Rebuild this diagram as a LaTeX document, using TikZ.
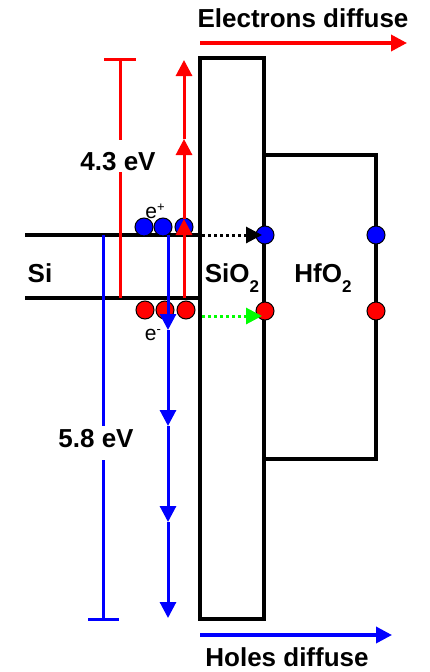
\documentclass[tikz,border=0pt]{standalone}
\usepackage{fontspec}
\setmainfont{Liberation Sans}
\usepackage{xcolor}
\definecolor{dotgreen}{RGB}{0,255,0}
\usetikzlibrary{arrows.meta}
\newcommand{\lowidx}[1]{\raisebox{-10pt}{\fontsize{17}{20}\selectfont #1}}
\newcommand{\highidx}[1]{\raisebox{7pt}{\fontsize{13}{14}\selectfont #1}}

\begin{document}
\begin{tikzpicture}[
      x=1pt,y=-1pt,
      band/.style={line width=4pt,black},
      lbl/.style={font=\fontsize{26}{30}\selectfont\bfseries,anchor=base,inner sep=0pt},
      small/.style={font=\fontsize{21}{24}\selectfont,anchor=base,inner sep=0pt},
      hole/.style={circle,draw=black,line width=1pt,fill=blue,minimum size=18pt,inner sep=0pt},
      elec/.style={hole,fill=red},
      tip/.style={-{Triangle[length=16pt,width=16pt]}},
      redline/.style={line width=3pt,red},
      blueline/.style={line width=3pt,blue},
      dots/.style={line width=3pt,dash pattern=on 3pt off 3pt,tip,shorten >=3pt}
    ]
    \useasboundingbox (0,0) rectangle (429,672);
    % oxide layers
    \draw[band] (200,58) rectangle (264,619);
    \draw[band] (264,155) -| (376,459) -- (264,459);
    % Si bands
    \coordinate (cbl) at (25,235);
    \coordinate (cbr) at (200,235);
    \coordinate (vbl) at (25,298);
    \coordinate (vbr) at (200,298);
    \draw[band] (cbl) -- (cbr);
    \draw[band] (vbl) -- (vbr);
    % carriers
    \foreach \x [count=\i] in {144,163,184} {
      \node[hole] (h\i) at (\x,227) {};
    }
    \foreach \x [count=\i] in {145,165,186} {
      \node[elec] (e\i) at (\x,310) {};
    }
    \node[hole] (hsio) at (265,235) {};
    \node[elec] (esio) at (265,311) {};
    \node[hole] (hhfo) at (376,235) {};
    \node[elec] (ehfo) at (376,311) {};
    % barrier heights
    \coordinate (rtop) at (120,59);
    \coordinate (rbot) at (120,298);
    \draw[redline] (rbot) -- (rtop);
    \draw[redline] (104,59) -- (136,59);
    \node[lbl,fill=white,text height=28pt,inner ysep=2pt] (gapr) at (118,170) {4.3 eV};
    \coordinate (btop) at (103,235);
    \coordinate (bbot) at (103,619);
    \draw[blueline] (btop) -- (bbot);
    \draw[blueline] (88,619) -- (119,619);
    \node[lbl,fill=white,text height=19pt,text depth=11pt,inner ysep=2pt] (gapb) at (96,447) {5.8 eV};
    % tunnelling steps
    \foreach \y [count=\i from 0] in {298,219,139,60} {
      \coordinate (u\i) at (184,\y);
    }
    \foreach \i/\j in {0/1,1/2,2/3} {
      \draw[redline,tip] (u\i) -- (u\j);
    }
    \foreach \y [count=\i from 0] in {235,330,426,522,618} {
      \coordinate (d\i) at (168,\y);
    }
    \foreach \i/\j in {0/1,1/2,2/3,3/4} {
      \draw[blueline,tip] (d\i) -- (d\j);
    }
    % transfer into oxide
    \coordinate (w1) at (202,235);
    \coordinate (w2) at (202,316);
    \draw[dots,black] (w1) -- (hsio.center);
    \draw[dots,dotgreen] (w2) -- (w2 -| esio);
    % labels
    \node[small] (ep) at (155,218) {e\highidx{+}};
    \node[small] (em) at (153,340) {e\highidx{-}};
    \node[lbl] (si) at (40,282) {Si};
    \node[lbl] (sio) at (232,282) {SiO\lowidx{2}};
    \node[lbl] (hfo) at (323,282) {HfO\lowidx{2}};
    % diffusion
    \node[lbl] (eltxt) at (303,27) {Electrons diffuse};
    \coordinate (ea0) at (200,43);
    \coordinate (ea1) at (407,43);
    \draw[redline,line width=3.5pt,tip] (ea0) -- (ea1);
    \node[lbl] (hotxt) at (287,666) {Holes diffuse};
    \coordinate (ha0) at (200,635);
    \coordinate (ha1) at (392,635);
    \draw[blueline,line width=3.5pt,tip] (ha0) -- (ha1);
  \end{tikzpicture}
\end{document}
